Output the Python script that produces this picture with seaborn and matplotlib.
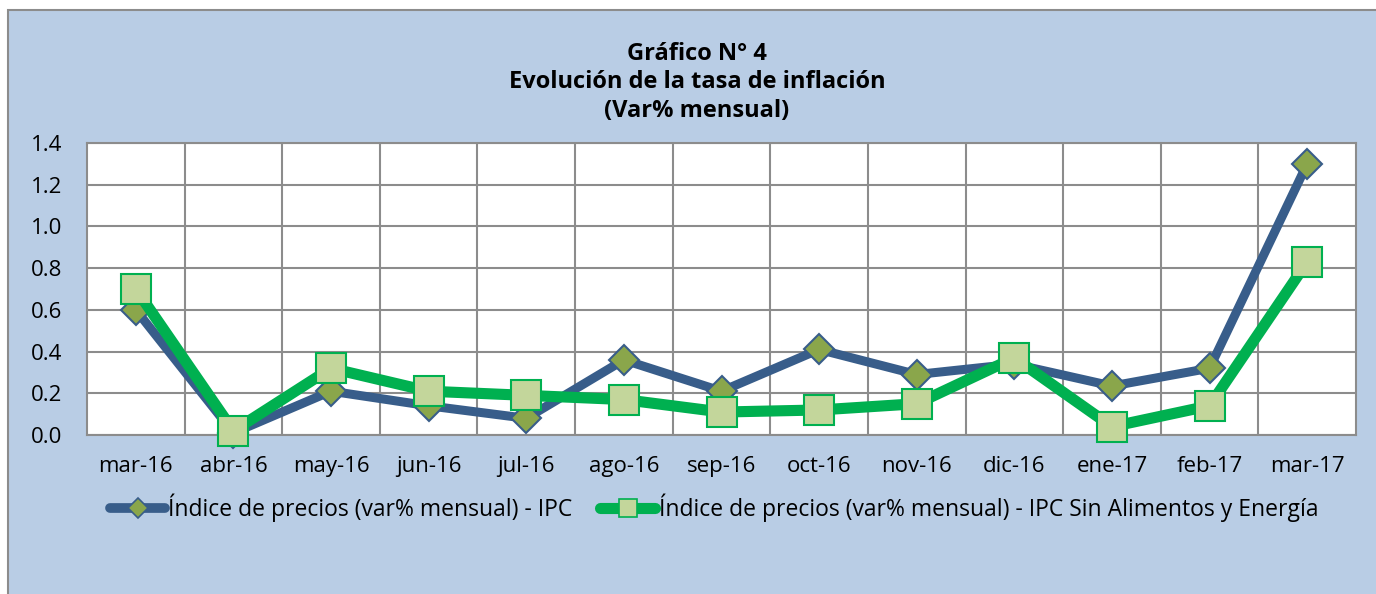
import matplotlib
matplotlib.use("Agg")
import matplotlib.pyplot as plt
import seaborn as sns
import pandas as pd
from matplotlib.patches import Rectangle
from matplotlib.lines import Line2D

months = ["mar-16", "abr-16", "may-16", "jun-16", "jul-16", "ago-16", "sep-16",
          "oct-16", "nov-16", "dic-16", "ene-17", "feb-17", "mar-17"]
ipc = [0.60, 0.01, 0.21, 0.14, 0.08, 0.36, 0.21, 0.41, 0.29, 0.34, 0.235, 0.32, 1.30]
ipc_sae = [0.70, 0.02, 0.32, 0.21, 0.19, 0.17, 0.11, 0.12, 0.15, 0.37, 0.04, 0.14, 0.83]
yticks = [0.0, 0.2, 0.4, 0.6, 0.8, 1.0, 1.2, 1.4]
label_ipc = "Índice de precios (var% mensual) - IPC"
label_sae = "Índice de precios (var% mensual) - IPC Sin Alimentos y Energía"
title = "Gráfico N° 4\nEvolución de la tasa de inflación\n(Var% mensual)"

sns.set_theme(style="white")
plt.rcParams["font.family"] = ["Open Sans", "DejaVu Sans"]
plt.rcParams["text.color"] = "black"

W, H = 1376, 594
fig = plt.figure(figsize=(W / 100, H / 100), dpi=100, facecolor="white")
bg = Rectangle((8 / W, -0.05), (W - 8 + 20) / W, (H - 10) / H + 0.05, transform=fig.transFigure,
               facecolor="#B9CDE5", edgecolor="#8C8C8C", linewidth=1.5, zorder=-10)
fig.patches.append(bg)

ax = fig.add_axes([87 / W, 1 - 435 / H, (1356 - 87) / W, (435 - 143) / H])
ax.set_facecolor("white")

df = pd.DataFrame({"mes": months, "ipc": ipc, "sae": ipc_sae})
df["pos"] = range(len(months))

sns.lineplot(data=df, x="pos", y="ipc", ax=ax, color="#385D8A", linewidth=6.5,
             marker="D", markersize=15, markerfacecolor="#8AA64B",
             markeredgecolor="#385D8A", markeredgewidth=1.5, zorder=3, clip_on=False)
sns.lineplot(data=df, x="pos", y="sae", ax=ax, color="#00B050", linewidth=8,
             marker="s", markersize=21, markerfacecolor="#C3D69B",
             markeredgecolor="#00B050", markeredgewidth=1.5, zorder=4, clip_on=False)

ax.set_xlim(-0.5, len(months) - 0.5)
ax.set_ylim(0, 1.4)
ax.set_yticks(yticks)
ax.set_yticklabels([f"{v:.1f}" for v in yticks])
ax.set_xticks(range(len(months)))
ax.set_xticklabels(months)
ax.set_xticks([i + 0.5 for i in range(len(months) - 1)], minor=True)
ax.grid(True, which="major", axis="y", color="#8C8C8C", linewidth=1.5)
ax.grid(True, which="minor", axis="x", color="#8C8C8C", linewidth=1.5)
ax.grid(False, which="major", axis="x")
ax.set_axisbelow(True)
ax.tick_params(axis="both", which="both", length=0, labelsize=16, colors="black")
ax.tick_params(axis="x", pad=15)
ax.tick_params(axis="y", pad=18)
ax.set_xlabel("")
ax.set_ylabel("")
for s in ax.spines.values():
    s.set_color("#8C8C8C")
    s.set_linewidth(1.5)

fig.text(697 / W, 1 - 82 / H, title, ha="center", va="center", fontsize=17,
         fontweight="bold", linespacing=1.25, color="black")

handles = [
    Line2D([], [], color="#385D8A", linewidth=7, marker="D", markersize=10,
           markerfacecolor="#8AA64B", markeredgecolor="#385D8A", markeredgewidth=1.2,
           solid_capstyle="round"),
    Line2D([], [], color="#00B050", linewidth=8, marker="s", markersize=13,
           markerfacecolor="#C3D69B", markeredgecolor="#00B050", markeredgewidth=1.2,
           solid_capstyle="round"),
]
leg = fig.legend(handles, [label_ipc, label_sae], loc="center left",
                 bbox_to_anchor=(110 / W, 1 - 508 / H), ncol=2, frameon=False,
                 fontsize=16.5, handlelength=2.4, handletextpad=0.15, columnspacing=1.2,
                 borderaxespad=0, borderpad=0)
for t in leg.get_texts():
    t.set_color("black")

fig.savefig("out.png", dpi=100, facecolor="white")
